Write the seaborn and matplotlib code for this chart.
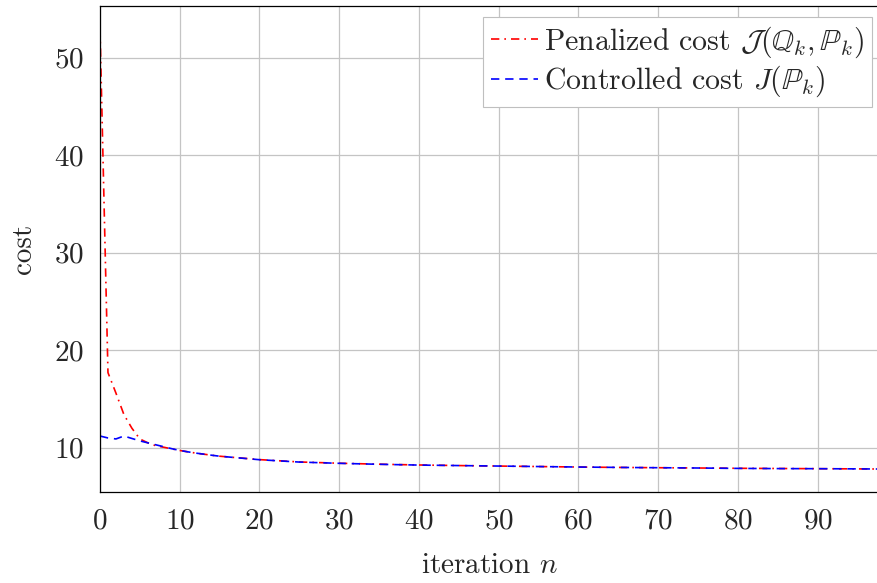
import numpy as np
import pandas as pd
import matplotlib
matplotlib.use("Agg")
import matplotlib.pyplot as plt
import seaborn as sns

# ---- data ----
iters = [0, 1, 2, 3, 4, 5, 6, 7, 8, 9, 10, 11, 12, 13, 14, 15,
         20, 25, 30, 35, 40, 45, 50, 55, 60, 65, 70, 75, 80, 85, 90, 95, 99]
penalized = [53.0, 17.7, 15.6, 13.4, 12.0, 10.9, 10.5, 10.2, 10.05, 9.88, 9.72, 9.58, 9.45, 9.34, 9.23, 9.13,
             8.78, 8.54, 8.41, 8.31, 8.23, 8.17, 8.12, 8.07, 8.02, 7.98, 7.95, 7.92, 7.89, 7.87, 7.85, 7.83, 7.81]
controlled = [11.2, 11.0, 10.9, 11.2, 10.95, 10.7, 10.5, 10.3, 10.1, 9.9, 9.72, 9.58, 9.45, 9.34, 9.23, 9.13,
              8.77, 8.53, 8.40, 8.30, 8.22, 8.17, 8.12, 8.07, 8.02, 7.98, 7.95, 7.92, 7.88, 7.86, 7.85, 7.83, 7.81]
xticks = [0, 10, 20, 30, 40, 50, 60, 70, 80, 90]
yticks = [10, 20, 30, 40, 50]

df = pd.DataFrame({"n": iters, "pen": penalized, "ctrl": controlled})

sns.set_style("white")
plt.rcParams["font.family"] = ["cmr10", "DejaVu Serif"]
plt.rcParams["mathtext.fontset"] = "cm"
plt.rcParams["axes.formatter.use_mathtext"] = True

W, H = 878, 583
fig = plt.figure(figsize=(W / 100, H / 100), dpi=100)
left, right, top, bottom = 100, 878, 6, 491.7
ax = fig.add_axes([left / W, (H - bottom) / H, (right - left) / W, (bottom - top) / H])

sns.lineplot(data=df, x="n", y="pen", ax=ax, color="red", lw=1.2,
             linestyle=(0, (5, 3, 1, 3)),
             label=r"Penalized cost $\mathcal{J}(\mathbb{Q}_k,\mathbb{P}_k)$")
sns.lineplot(data=df, x="n", y="ctrl", ax=ax, color="blue", lw=1.2,
             linestyle=(0, (5, 3.5)),
             label=r"Controlled cost $J(\mathbb{P}_k)$")

ax.set_xlim(0, 97.58)
ax.set_ylim(5.49, 55.3)
ax.set_xticks(xticks)
ax.set_yticks(yticks)
ax.grid(True, color="#c4c4c4", lw=0.9)
ax.set_axisbelow(True)
for s in ["left", "bottom", "top"]:
    ax.spines[s].set_color("black")
    ax.spines[s].set_linewidth(0.9)
ax.spines["right"].set_visible(False)
ax.tick_params(direction="out", length=7.7, width=0.9, color="black",
               labelsize=21, pad=4)

ax.set_xlabel(r"iteration $n$", fontsize=21, labelpad=13)
ax.set_ylabel("cost", fontsize=21, labelpad=12)

leg = ax.legend(loc="upper right", bbox_to_anchor=(0.992, 0.978), borderaxespad=0,
                fontsize=21.5, fancybox=False, framealpha=1, edgecolor="#bfbfbf",
                handlelength=1.6, handletextpad=0.2, borderpad=0.25, labelspacing=0.15)
leg.get_frame().set_linewidth(0.8)

fig.savefig("out.png", dpi=100)
